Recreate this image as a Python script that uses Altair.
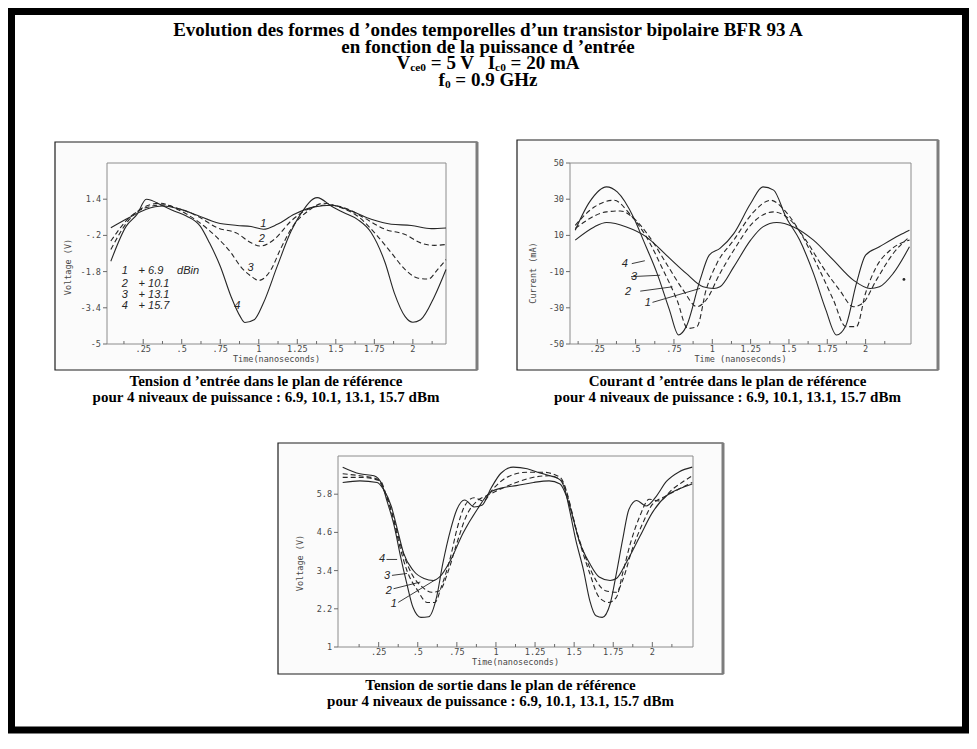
import altair as alt
import pandas as pd

W, H = 961, 725

# ---------------- Panel 1 : input voltage (V) ----------------
P1_C1_T = [0.04, 0.16, 0.27, 0.38, 0.49, 0.60, 0.73, 0.86, 0.95, 1.03, 1.12, 1.23, 1.36, 1.47, 1.60, 1.73, 1.86, 1.99, 2.12, 2.215]
P1_C1_V = [0.14, 0.59, 0.96, 1.10, 0.96, 0.69, 0.36, 0.24, 0.19, 0.07, 0.29, 0.73, 1.06, 1.13, 0.88, 0.51, 0.29, 0.24, 0.10, 0.13]
P1_C2_T = [0.04, 0.16, 0.27, 0.38, 0.49, 0.60, 0.73, 0.86, 0.95, 1.01, 1.10, 1.21, 1.32, 1.45, 1.58, 1.68, 1.82, 1.95, 2.05, 2.14, 2.215]
P1_C2_V = [-0.45, 0.59, 1.03, 1.15, 0.96, 0.66, 0.14, -0.11, -0.53, -0.67, -0.38, 0.44, 0.96, 1.15, 0.96, 0.59, 0.07, -0.16, -0.53, -0.64, -0.60]
P1_C3_T = [0.04, 0.16, 0.25, 0.36, 0.47, 0.60, 0.73, 0.82, 0.88, 0.95, 1.00, 1.08, 1.14, 1.23, 1.32, 1.42, 1.53, 1.64, 1.77, 1.86, 1.95, 2.03, 2.10, 2.16, 2.215]
P1_C3_V = [-0.82, 0.51, 1.03, 1.22, 0.96, 0.44, -0.30, -0.97, -1.56, -2.00, -2.19, -1.71, -0.82, 0.29, 0.88, 1.22, 1.03, 0.66, -0.23, -0.97, -1.71, -2.08, -2.13, -1.71, -1.27]
P1_C4_T = [0.04, 0.14, 0.21, 0.27, 0.38, 0.45, 0.53, 0.62, 0.68, 0.75, 0.82, 0.88, 0.91, 0.97, 1.03, 1.12, 1.21, 1.27, 1.38, 1.47, 1.55, 1.64, 1.73, 1.82, 1.88, 1.95, 2.00, 2.05, 2.14, 2.215]
P1_C4_V = [-1.34, 0.21, 0.73, 1.40, 1.10, 0.88, 0.66, 0.21, -0.53, -1.56, -2.90, -3.79, -4.05, -3.93, -3.19, -1.56, -0.01, 0.73, 1.47, 1.10, 0.81, 0.51, -0.08, -1.41, -2.75, -3.79, -4.04, -3.93, -2.90, -1.71]
P1_Y_TICKS = [1.4, -0.2, -1.8, -3.4, -5.0]
P1_LABEL_T = [1.03, 1.02, 0.946, 0.86]
P1_LABEL_V = [0.32, -0.35, -1.64, -3.34]
P1_LEG_NUM = ["1", "2", "3", "4"]
P1_LEG_DBM = ["+ 6.9", "+ 10.1", "+ 13.1", "+ 15.7"]
P1_LEG_V = [-1.79, -2.33, -2.85, -3.34]

# ---------------- Panel 2 : input current (mA) ----------------
P2_C1_T = [0.106, 0.23, 0.31, 0.44, 0.57, 0.70, 0.83, 0.94, 1.01, 1.05, 1.14, 1.25, 1.33, 1.42, 1.53, 1.66, 1.79, 1.92, 2.03, 2.09, 2.18, 2.286]
P2_C1_V = [7.4, 14.7, 17.1, 14.7, 9.2, -0.9, -11, -18.4, -19.3, -18.4, -7.4, 7.4, 14.7, 17.1, 14.7, 7.4, -3.7, -14.7, -19.3, -18.4, -11, 3.7]
P2_C2_T = [0.106, 0.31, 0.40, 0.49, 0.59, 0.70, 0.81, 0.90, 0.96, 1.05, 1.14, 1.27, 1.40, 1.51, 1.61, 1.72, 1.83, 1.92, 1.98, 2.07, 2.18, 2.286]
P2_C2_V = [13.8, 23, 23.5, 19.3, 9.2, -5.5, -20.2, -29.4, -25.7, -11, 1.8, 17.5, 23, 18.4, 7.4, -7.4, -20.2, -29.4, -27.6, -14.7, 0, 9.2]
P2_C3_T = [0.106, 0.23, 0.36, 0.46, 0.57, 0.68, 0.77, 0.84, 0.90, 0.96, 1.03, 1.14, 1.27, 1.38, 1.48, 1.59, 1.70, 1.79, 1.87, 1.94, 2.00, 2.07, 2.16, 2.286]
P2_C3_V = [15.6, 25.7, 29.4, 22, 9.2, -9.2, -25.7, -41.4, -40.4, -20, -5.5, 7.4, 23, 29.4, 23, 9.2, -9.2, -25.7, -40.4, -40.4, -21.8, -7.4, 1.8, 7.4]
P2_C4_T = [0.106, 0.20, 0.31, 0.38, 0.49, 0.55, 0.64, 0.72, 0.78, 0.83, 0.92, 0.98, 1.05, 1.14, 1.25, 1.33, 1.40, 1.48, 1.57, 1.66, 1.74, 1.81, 1.87, 1.94, 2.00, 2.09, 2.22, 2.286]
P2_C4_V = [12.9, 28.5, 36.8, 34, 19.3, 7.4, -11, -31, -45, -40.4, -14.7, -0.9, 2.8, 11, 27.6, 36.8, 35, 20.2, 7.4, -11, -31, -45, -40, -16.5, -0.9, 3.7, 10.1, 12.9]
P2_Y_TICKS = [50, 30, 10, -10, -30, -50]
P2_LABEL_T = [0.58, 0.45, 0.49, 0.43]
P2_LABEL_V = [-27.6, -21.1, -12.9, -5.9]
P2_LEADER_T0 = [0.61, 0.53, 0.47, 0.475]
P2_LEADER_V0 = [-27.0, -20.8, -12.8, -5.6]
P2_LEADER_T1 = [0.92, 0.74, 0.66, 0.56]
P2_LEADER_V1 = [-19.3, -18.4, -12.0, -4.0]
P2_DOT_T = [2.25]
P2_DOT_V = [-14.3]

# ---------------- Panel 3 : output voltage (V) ----------------
P3_C1_T = [0.02, 0.13, 0.24, 0.28, 0.33, 0.37, 0.41, 0.47, 0.54, 0.60, 0.64, 0.71, 0.79, 0.88, 0.96, 1.05, 1.13, 1.24, 1.34, 1.41, 1.45, 1.49, 1.53, 1.60, 1.66, 1.73, 1.77, 1.83, 1.92, 2.00, 2.09, 2.17, 2.255]
P3_C1_V = [6.17, 6.22, 6.17, 5.96, 5.43, 4.69, 3.94, 3.41, 3.15, 3.09, 3.20, 3.73, 4.58, 5.32, 5.85, 6.01, 6.07, 6.17, 6.22, 6.12, 5.75, 5.11, 4.37, 3.62, 3.20, 3.09, 3.15, 3.62, 4.47, 5.22, 5.75, 5.96, 6.12]
P3_C2_T = [0.02, 0.13, 0.26, 0.30, 0.35, 0.40, 0.46, 0.53, 0.59, 0.64, 0.69, 0.75, 0.81, 0.88, 0.94, 1.03, 1.13, 1.24, 1.34, 1.42, 1.47, 1.52, 1.58, 1.64, 1.70, 1.77, 1.81, 1.87, 1.94, 2.00, 2.09, 2.17, 2.255]
P3_C2_V = [6.33, 6.33, 6.22, 5.75, 4.95, 4.05, 3.31, 2.88, 2.72, 2.77, 3.31, 4.26, 5.11, 5.59, 5.75, 5.96, 6.17, 6.33, 6.38, 6.22, 5.53, 4.58, 3.73, 3.09, 2.77, 2.72, 3.09, 4.05, 4.90, 5.48, 5.75, 5.96, 6.17]
P3_C3_T = [0.02, 0.13, 0.24, 0.29, 0.34, 0.38, 0.43, 0.50, 0.56, 0.61, 0.65, 0.71, 0.75, 0.80, 0.86, 0.92, 0.98, 1.07, 1.20, 1.30, 1.41, 1.46, 1.50, 1.55, 1.60, 1.66, 1.72, 1.77, 1.81, 1.86, 1.92, 1.98, 2.04, 2.13, 2.255]
P3_C3_V = [6.44, 6.38, 6.28, 5.85, 5.11, 4.26, 3.41, 2.77, 2.40, 2.40, 2.88, 3.84, 4.69, 5.43, 5.69, 5.59, 5.96, 6.33, 6.49, 6.49, 6.33, 5.75, 4.90, 4.05, 3.31, 2.56, 2.40, 2.56, 3.31, 4.26, 5.11, 5.64, 5.59, 5.96, 6.38]
P3_C4_T = [0.02, 0.13, 0.22, 0.27, 0.30, 0.35, 0.39, 0.43, 0.47, 0.52, 0.57, 0.62, 0.66, 0.71, 0.75, 0.80, 0.86, 0.91, 0.97, 1.03, 1.11, 1.20, 1.28, 1.36, 1.41, 1.44, 1.47, 1.51, 1.56, 1.60, 1.64, 1.68, 1.73, 1.77, 1.81, 1.85, 1.90, 1.96, 2.02, 2.09, 2.17, 2.255]
P3_C4_V = [6.65, 6.44, 6.38, 6.12, 5.64, 4.79, 3.84, 2.99, 2.24, 1.93, 1.95, 2.56, 3.62, 4.69, 5.32, 5.62, 5.40, 5.45, 6.00, 6.45, 6.65, 6.60, 6.47, 6.36, 6.25, 5.96, 5.32, 4.37, 3.41, 2.46, 1.98, 1.93, 2.35, 3.31, 4.37, 5.32, 5.60, 5.43, 5.70, 6.20, 6.50, 6.65]
P3_Y_TICKS = [5.8, 4.6, 3.4, 2.2, 1.0]
P3_LABEL_T = [0.347, 0.315, 0.304, 0.272]
P3_LABEL_V = [2.35, 2.77, 3.23, 3.75]
P3_LEADER_T0 = [0.375, 0.345, 0.335, 0.30]
P3_LEADER_V0 = [2.40, 2.83, 3.25, 3.75]
P3_LEADER_T1 = [0.612, 0.516, 0.431, 0.368]
P3_LEADER_V1 = [3.11, 3.04, 3.31, 3.75]

X_TICKS = [0.25, 0.5, 0.75, 1.0, 1.25, 1.5, 1.75, 2.0]
X_MINOR = [0.125, 0.375, 0.625, 0.875, 1.125, 1.375, 1.625, 1.875, 2.125]
CURVE_NAMES = ["1", "2", "3", "4"]

TITLE_1 = "Evolution des formes d \u2019ondes temporelles d\u2019un transistor bipolaire BFR 93 A"
TITLE_2 = "en fonction de la puissance d \u2019entr\u00e9e"
CAP_SUB = "pour 4 niveaux de puissance : 6.9, 10.1, 13.1, 15.7 dBm"
CAP_1 = "Tension d \u2019entr\u00e9e dans le plan de r\u00e9f\u00e9rence"
CAP_2 = "Courant d \u2019entr\u00e9e dans le plan de r\u00e9f\u00e9rence"
CAP_3 = "Tension de sortie dans le plan de r\u00e9f\u00e9rence"

SERIF = "Liberation Serif"
MONO = "DejaVu Sans Mono"
HAND = "Liberation Sans"
INK = "#262626"
AXC = "#474747"
AXF = 8.5
CAPF = 15
ONE = pd.DataFrame({"k": [0]})


def tick_label(v):
    s = "%g" % v
    return s.replace("0.", ".", 1)


def fixed_text(text, x, y, size, weight="bold", align="center", font=SERIF, color="#000000"):
    return alt.Chart(ONE).mark_text(
        text=text, fontSize=size, fontWeight=weight, font=font, align=align,
        baseline="middle", color=color
    ).encode(x=alt.value(x), y=alt.value(y))


# Times-Bold advance widths (per 1000 em) for composing the subscripted lines
TB = {" ": 250, "=": 570, ".": 250, "A": 722, "G": 778, "H": 778, "I": 389, "V": 722,
      "c": 444, "e": 444, "f": 333, "m": 833, "z": 444}


def tw(s, size):
    return sum(TB.get(ch, 500) for ch in s) * size / 1000.0


def sub_line(pieces, cx, y, size):
    """pieces: list of (text, is_sub, gap_before_em)"""
    ss = size * 0.6
    total = 0.0
    for txt, is_sub, gap in pieces:
        total += gap * size + tw(txt, ss if is_sub else size)
    x = cx - total / 2.0
    layers = []
    for txt, is_sub, gap in pieces:
        x += gap * size
        s = ss if is_sub else size
        layers.append(fixed_text(txt, x, y + (5 if is_sub else 0), s, align="left"))
        x += tw(txt, s)
    return layers


def curves_df(pairs):
    rows = []
    for name, ts, vs in pairs:
        for t, v in zip(ts, vs):
            rows.append({"curve": name, "t": t, "v": v})
    return pd.DataFrame(rows)


def panel(cfg):
    (fx0, fy0, fx1, fy1) = cfg["frame"]
    (bx0, by0, bx1, by1) = cfg["box"]
    xd, yd = cfg["xdom"], cfg["ydom"]
    xs = alt.Scale(domain=xd, range=[fx0, fx1], nice=False, zero=False)
    ys = alt.Scale(domain=yd, range=[fy1, fy0], nice=False, zero=False)
    ppx = (fx1 - fx0) / (xd[1] - xd[0])
    ppy = (fy1 - fy0) / (yd[1] - yd[0])

    def to_t(px):
        return xd[0] + (px - fx0) / ppx

    def to_v(py):
        return yd[0] + (fy1 - py) / ppy

    def X(f):
        return alt.X(f, type="quantitative", scale=xs, axis=None)

    def Y(f):
        return alt.Y(f, type="quantitative", scale=ys, axis=None)

    box = pd.DataFrame({"x0": [to_t(bx0)], "x1": [to_t(bx1)], "y0": [to_v(by1)], "y1": [to_v(by0)]})
    frame = pd.DataFrame({"x0": [xd[0]], "x1": [xd[1]], "y0": [yd[0]], "y1": [yd[1]]})

    layers = []
    layers.append(alt.Chart(box).mark_rect(fill="#fbfbfb", stroke="#1e1e1e", strokeWidth=1.2)
                  .encode(x=X("x0"), x2="x1", y=Y("y0"), y2="y1"))
    layers.append(alt.Chart(box).mark_rule(stroke="#7d7d7d", strokeWidth=3)
                  .encode(x=X("x1"), y=Y("y0"), y2="y1"))
    layers.append(alt.Chart(frame).mark_rect(fill="transparent", stroke="#8c8c8c", strokeWidth=1)
                  .encode(x=X("x0"), x2="x1", y=Y("y0"), y2="y1"))

    # x ticks (inward), major and minor
    ticks = pd.DataFrame({"t": X_TICKS, "y0": [yd[0]] * len(X_TICKS),
                          "y1": [yd[0] + 5 / ppy] * len(X_TICKS)})
    minor = pd.DataFrame({"t": X_MINOR, "y0": [yd[0]] * len(X_MINOR),
                          "y1": [yd[0] + 3 / ppy] * len(X_MINOR)})
    minor = minor[(minor.t > xd[0]) & (minor.t < xd[1])]
    for tdf in (ticks, minor):
        layers.append(alt.Chart(tdf).mark_rule(stroke="#6a6a6a", strokeWidth=1)
                      .encode(x=X("t"), y=Y("y0"), y2="y1"))
    # y ticks (outward)
    yt = cfg["yticks"]
    ytk = pd.DataFrame({"x0": [to_t(fx0 - 4)] * len(yt), "x1": [xd[0]] * len(yt), "v": yt})
    layers.append(alt.Chart(ytk).mark_rule(stroke="#6a6a6a", strokeWidth=1)
                  .encode(x=X("x0"), x2="x1", y=Y("v")))

    # axis labels and titles
    xl = pd.DataFrame({"t": X_TICKS, "v": [to_v(fy1 + 5)] * len(X_TICKS),
                       "txt": [tick_label(v) for v in X_TICKS]})
    layers.append(alt.Chart(xl).mark_text(font=MONO, fontSize=AXF, color=AXC, align="center",
                                          baseline="middle")
                  .encode(x=X("t"), y=Y("v"), text="txt:N"))
    yl = pd.DataFrame({"t": [to_t(fx0 - 6)] * len(yt), "v": yt,
                       "txt": [tick_label(v) for v in yt]})
    layers.append(alt.Chart(yl).mark_text(font=MONO, fontSize=AXF, color=AXC, align="right",
                                          baseline="middle")
                  .encode(x=X("t"), y=Y("v"), text="txt:N"))
    xt = pd.DataFrame({"t": [to_t((fx0 + fx1) / 2.0)], "v": [to_v(fy1 + 14.5)], "txt": [cfg["xtitle"]]})
    layers.append(alt.Chart(xt).mark_text(font=MONO, fontSize=AXF, color=AXC, align="center",
                                          baseline="middle")
                  .encode(x=X("t"), y=Y("v"), text="txt:N"))
    ytt = pd.DataFrame({"t": [to_t(fx0 + cfg["ytitle_dx"])], "v": [to_v(cfg["ytitle_y"])],
                        "txt": [cfg["ytitle"]]})
    layers.append(alt.Chart(ytt).mark_text(font=MONO, fontSize=AXF, color=AXC, align="center",
                                           baseline="middle", angle=270)
                  .encode(x=X("t"), y=Y("v"), text="txt:N"))

    solid = curves_df([c for c in cfg["curves"] if c[0] in ("1", "4")])
    dashed = curves_df([c for c in cfg["curves"] if c[0] in ("2", "3")])
    layers.append(alt.Chart(solid).mark_line(color=INK, strokeWidth=1.1, interpolate="monotone")
                  .encode(x=X("t"), y=Y("v"), detail="curve:N"))
    layers.append(alt.Chart(dashed).mark_line(color=INK, strokeWidth=1.1, strokeDash=[5, 3],
                                              interpolate="monotone")
                  .encode(x=X("t"), y=Y("v"), detail="curve:N"))

    if cfg.get("leaders") is not None:
        layers.append(alt.Chart(cfg["leaders"]).mark_rule(stroke=INK, strokeWidth=0.9)
                      .encode(x=X("t0"), x2="t1", y=Y("v0"), y2="v1"))
    layers.append(alt.Chart(cfg["labels"]).mark_text(font=HAND, fontSize=11, fontStyle="italic",
                                                     color=INK, align="center", baseline="middle")
                  .encode(x=X("t"), y=Y("v"), text="txt:N"))
    for extra in cfg.get("extra", []):
        layers.append(extra(X, Y))

    cx = (bx0 + bx1) / 2.0
    layers.append(fixed_text(cfg["caption"], cx, by1 + 11, CAPF))
    layers.append(fixed_text(CAP_SUB, cx, by1 + 27, CAPF))
    return alt.layer(*layers)


# ---------- panel configs (pixel geometry in chart coordinates) ----------
p1_labels = pd.DataFrame({"t": P1_LABEL_T, "v": P1_LABEL_V, "txt": CURVE_NAMES})
p1_leg_num = pd.DataFrame({"t": [0.13] * 4, "v": P1_LEG_V, "txt": P1_LEG_NUM})
p1_leg_dbm = pd.DataFrame({"t": [0.22] * 4, "v": P1_LEG_V, "txt": P1_LEG_DBM})
p1_leg_unit = pd.DataFrame({"t": [0.47], "v": [P1_LEG_V[0]], "txt": ["dBin"]})


def p1_legend(X, Y):
    a = alt.Chart(p1_leg_num).mark_text(font=HAND, fontSize=11, fontStyle="italic", color=INK,
                                        align="center", baseline="middle").encode(x=X("t"), y=Y("v"), text="txt:N")
    b = alt.Chart(p1_leg_dbm).mark_text(font=HAND, fontSize=11, fontStyle="italic", color=INK,
                                        align="left", baseline="middle").encode(x=X("t"), y=Y("v"), text="txt:N")
    c = alt.Chart(p1_leg_unit).mark_text(font=HAND, fontSize=11, fontStyle="italic", color=INK,
                                         align="left", baseline="middle").encode(x=X("t"), y=Y("v"), text="txt:N")
    return alt.layer(a, b, c)


p2_dot = pd.DataFrame({"t": P2_DOT_T, "v": P2_DOT_V})


def p2_extra(X, Y):
    return alt.Chart(p2_dot).mark_point(filled=True, size=8, color=INK, opacity=1).encode(
        x=X("t"), y=Y("v"))


cfg1 = dict(
    frame=(99, 155, 438, 336), box=(47, 134, 469, 362),
    xdom=[0.015, 2.215], ydom=[-5.0, 3.0], yticks=P1_Y_TICKS,
    xtitle="Time(nanoseconds)", ytitle="Voltage (V)", ytitle_dx=-39, ytitle_y=259,
    curves=[("1", P1_C1_T, P1_C1_V), ("2", P1_C2_T, P1_C2_V),
            ("3", P1_C3_T, P1_C3_V), ("4", P1_C4_T, P1_C4_V)],
    labels=p1_labels, leaders=None, extra=[p1_legend], caption=CAP_1,
)

p2_labels = pd.DataFrame({"t": P2_LABEL_T, "v": P2_LABEL_V, "txt": CURVE_NAMES})
p2_leaders = pd.DataFrame({"t0": P2_LEADER_T0, "v0": P2_LEADER_V0, "t1": P2_LEADER_T1, "v1": P2_LEADER_V1})
cfg2 = dict(
    frame=(562, 155, 903, 336), box=(509, 132, 930, 362),
    xdom=[0.072, 2.296], ydom=[-50.0, 50.0], yticks=P2_Y_TICKS,
    xtitle="Time (nanoseconds)", ytitle="Current (mA)", ytitle_dx=-37, ytitle_y=265,
    curves=[("1", P2_C1_T, P2_C1_V), ("2", P2_C2_T, P2_C2_V),
            ("3", P2_C3_T, P2_C3_V), ("4", P2_C4_T, P2_C4_V)],
    labels=p2_labels, leaders=p2_leaders, extra=[p2_extra], caption=CAP_2,
)

p3_labels = pd.DataFrame({"t": P3_LABEL_T, "v": P3_LABEL_V, "txt": CURVE_NAMES})
p3_leaders = pd.DataFrame({"t0": P3_LEADER_T0, "v0": P3_LEADER_V0, "t1": P3_LEADER_T1, "v1": P3_LEADER_V1})
cfg3 = dict(
    frame=(330, 448, 685, 639), box=(270, 435, 715, 666),
    xdom=[-0.01, 2.26], ydom=[1.0, 7.0], yticks=P3_Y_TICKS,
    xtitle="Time(nanoseconds)", ytitle="Voltage (V)", ytitle_dx=-38, ytitle_y=555,
    curves=[("1", P3_C1_T, P3_C1_V), ("2", P3_C2_T, P3_C2_V),
            ("3", P3_C3_T, P3_C3_V), ("4", P3_C4_T, P3_C4_V)],
    labels=p3_labels, leaders=p3_leaders, caption=CAP_3,
)

# ---------- page decorations ----------
border = alt.Chart(ONE).mark_rect(fill="transparent", stroke="#000000", strokeWidth=7).encode(
    x=alt.value(3.5), x2=alt.value(957.5), y=alt.value(3.5), y2=alt.value(722))

TS = 19
title_layers = [
    fixed_text(TITLE_1, 480, 22, TS),
    fixed_text(TITLE_2, 480, 38.5, TS),
]
title_layers += sub_line([("V", False, 0), ("ce0", True, 0), ("= 5 V", False, 0.25),
                          ("I", False, 0.7), ("c0", True, 0), ("= 20 mA", False, 0.25)], 480, 54.5, TS)
title_layers += sub_line([("f", False, 0), ("0", True, 0), ("= 0.9 GHz", False, 0.25)], 480, 72, TS)

chart = alt.layer(
    border, *title_layers, panel(cfg1), panel(cfg2), panel(cfg3)
).resolve_scale(x="independent", y="independent").properties(
    width=W, height=H, padding=0, background="#ffffff"
).configure_view(stroke=None)

chart.save("out.html", embed_options={"renderer": "svg", "actions": False})
